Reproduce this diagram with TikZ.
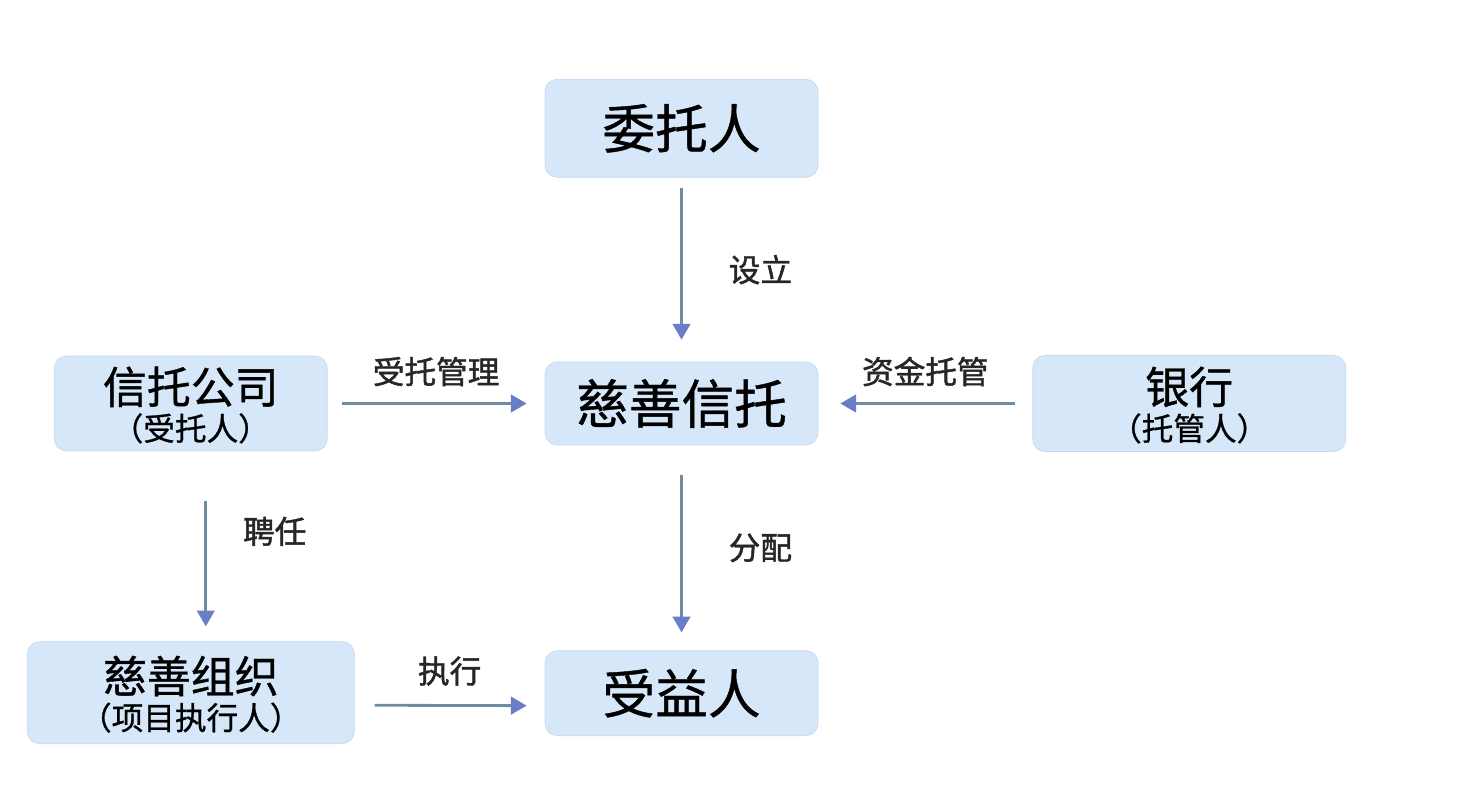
\documentclass[tikz,border=0pt]{standalone}
\usepackage{fontspec}
\newfontfamily\cjk[FakeBold=0.8]{Noto Sans CJK SC}
\newfontfamily\cjklbl[FakeBold=1.4]{Noto Sans CJK SC}
\usetikzlibrary{positioning, arrows.meta}
\definecolor{boxfill}{RGB}{214,231,249}
\definecolor{boxline}{RGB}{198,217,240}
\definecolor{linecol}{RGB}{112,140,160}
\definecolor{headcol}{RGB}{104,126,200}
\newcommand{\subline}[1]{{\fontsize{18}{20}\selectfont #1}}

\begin{document}
\begin{tikzpicture}[
    box/.style={rectangle, draw=boxline, fill=boxfill, rounded corners=7pt, minimum width=5.46cm, align=center, inner sep=2pt, font=\cjk\fontsize{30}{34}\selectfont},
    pairbox/.style={box, font=\cjk\fontsize{25}{28}\selectfont, text depth=0pt},
    arrow/.style={-{Triangle[width=10pt, length=9pt, color=headcol]}, line width=1.6pt, draw=linecol},
    lbl/.style={font=\cjklbl\fontsize{18}{20}\selectfont, text=black!85}
]
\useasboundingbox (0,0) rectangle (29.24,-15.8);

% middle column
\node (trust) [box, minimum height=1.66cm] at (13.63,-8.07) {慈善信托};
\node (settlor) [box, minimum height=1.96cm, above=3.68cm of trust] {委托人};
\node (benef) [box, minimum height=1.7cm, below=4.1cm of trust] {受益人};

% sides
\node (company) [pairbox, minimum height=1.9cm, left=4.34cm of trust] {信托公司\\[-7pt]\subline{（受托人）}};
\node (bank) [pairbox, minimum width=6.26cm, minimum height=1.92cm, right=4.28cm of trust] {银行\\[-7pt]\subline{（托管人）}};
\node (charity) [pairbox, minimum width=6.54cm, minimum height=2.04cm, below=3.8cm of company] {慈善组织\\[-7pt]\subline{（项目执行人）}};

% connecting arrows
\draw [arrow, shorten <=0.2cm, shorten >=0.44cm] (settlor) -- (trust)
    node (setup) [lbl, midway, right=0.8cm] {设立};
\draw [arrow, shorten <=0.28cm, shorten >=0.36cm] (company) -- (trust)
    node (manage) [lbl, midway, above=0.2cm] {受托管理};
\draw [arrow, shorten <=0.34cm, shorten >=0.44cm] (bank) -- (trust)
    node (custody) [lbl, midway, above=0.2cm] {资金托管};
\draw [arrow, shorten <=0.6cm, shorten >=0.36cm] (trust) -- (benef)
    node (alloc) [lbl, midway, right=0.8cm] {分配};
\draw [arrow, shorten <=1.0cm, shorten >=0.3cm] ([xshift=0.3cm]company.south) -- ([xshift=0.3cm]charity.north)
    node (hire) [lbl, midway, right=0.6cm, yshift=0.3cm] {聘任};
\draw [arrow, shorten <=0.4cm, shorten >=0.36cm] ([yshift=-0.25cm]charity.east) -- ([yshift=-0.25cm]benef.west)
    node (exec) [lbl, midway, above=0.25cm] {执行};

\end{tikzpicture}
\end{document}
